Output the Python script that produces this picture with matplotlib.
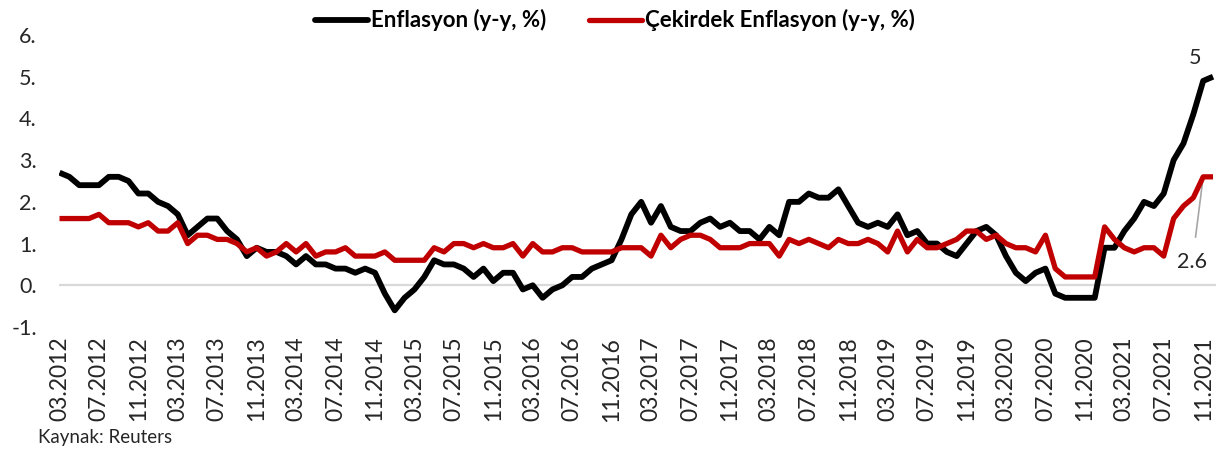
import matplotlib
matplotlib.use("Agg")
import matplotlib.pyplot as plt
import pandas as pd

# ---------------- data ----------------
months = pd.date_range("2012-03-01", "2021-12-01", freq="MS").strftime("%m.%Y").tolist()

enflasyon = [
    2.7, 2.6, 2.4, 2.4, 2.4, 2.6, 2.6, 2.5, 2.2, 2.2,                 # 2012 (Mar-Dec)
    2.0, 1.9, 1.7, 1.2, 1.4, 1.6, 1.6, 1.3, 1.1, 0.7, 0.9, 0.8,       # 2013
    0.8, 0.7, 0.5, 0.7, 0.5, 0.5, 0.4, 0.4, 0.3, 0.4, 0.3, -0.2,      # 2014
    -0.6, -0.3, -0.1, 0.2, 0.6, 0.5, 0.5, 0.4, 0.2, 0.4, 0.1, 0.3,    # 2015
    0.3, -0.1, 0.0, -0.3, -0.1, 0.0, 0.2, 0.2, 0.4, 0.5, 0.6, 1.1,    # 2016
    1.7, 2.0, 1.5, 1.9, 1.4, 1.3, 1.3, 1.5, 1.6, 1.4, 1.5, 1.3,       # 2017
    1.3, 1.1, 1.4, 1.2, 2.0, 2.0, 2.2, 2.1, 2.1, 2.3, 1.9, 1.5,       # 2018
    1.4, 1.5, 1.4, 1.7, 1.2, 1.3, 1.0, 1.0, 0.8, 0.7, 1.0, 1.3,       # 2019
    1.4, 1.2, 0.7, 0.3, 0.1, 0.3, 0.4, -0.2, -0.3, -0.3, -0.3, -0.3,  # 2020
    0.9, 0.9, 1.3, 1.6, 2.0, 1.9, 2.2, 3.0, 3.4, 4.1, 4.9, 5.0,       # 2021
]

cekirdek = [
    1.6, 1.6, 1.6, 1.6, 1.7, 1.5, 1.5, 1.5, 1.4, 1.5,                 # 2012 (Mar-Dec)
    1.3, 1.3, 1.5, 1.0, 1.2, 1.2, 1.1, 1.1, 1.0, 0.8, 0.9, 0.7,       # 2013
    0.8, 1.0, 0.8, 1.0, 0.7, 0.8, 0.8, 0.9, 0.7, 0.7, 0.7, 0.8,       # 2014
    0.6, 0.6, 0.6, 0.6, 0.9, 0.8, 1.0, 1.0, 0.9, 1.0, 0.9, 0.9,       # 2015
    1.0, 0.7, 1.0, 0.8, 0.8, 0.9, 0.9, 0.8, 0.8, 0.8, 0.8, 0.9,       # 2016
    0.9, 0.9, 0.7, 1.2, 0.9, 1.1, 1.2, 1.2, 1.1, 0.9, 0.9, 0.9,       # 2017
    1.0, 1.0, 1.0, 0.7, 1.1, 1.0, 1.1, 1.0, 0.9, 1.1, 1.0, 1.0,       # 2018
    1.1, 1.0, 0.8, 1.3, 0.8, 1.1, 0.9, 0.9, 1.0, 1.1, 1.3, 1.3,       # 2019
    1.1, 1.2, 1.0, 0.9, 0.9, 0.8, 1.2, 0.4, 0.2, 0.2, 0.2, 0.2,       # 2020
    1.4, 1.1, 0.9, 0.8, 0.9, 0.9, 0.7, 1.6, 1.9, 2.1, 2.6, 2.6,       # 2021
]

xtick_labels = [
    "03.2012", "07.2012", "11.2012", "03.2013", "07.2013", "11.2013",
    "03.2014", "07.2014", "11.2014", "03.2015", "07.2015", "11.2015",
    "03.2016", "07.2016", "11.2016", "03.2017", "07.2017", "11.2017",
    "03.2018", "07.2018", "11.2018", "03.2019", "07.2019", "11.2019",
    "03.2020", "07.2020", "11.2020", "03.2021", "07.2021", "11.2021",
]
ytick_values = [-1, 0, 1, 2, 3, 4, 5, 6]
ytick_labels = ["-1.", "0.", "1.", "2.", "3.", "4.", "5.", "6."]

label_enf = "Enflasyon (y-y, %)"
label_cek = "Çekirdek Enflasyon (y-y, %)"
source = "Kaynak: Reuters"

# ---------------- plot ----------------
plt.rcParams['font.family'] = ['Lato', 'DejaVu Sans']

W, H = 1225, 450
fig = plt.figure(figsize=(W / 100, H / 100), dpi=100)
left, right, top, bottom = 59, 1216, 35, 327
ax = fig.add_axes([left / W, 1 - bottom / H, (right - left) / W, (bottom - top) / H])

x = list(range(len(months)))
l1, = ax.plot(x, enflasyon, color='black', lw=4.2, solid_joinstyle='round',
              solid_capstyle='butt', label=label_enf, zorder=3)
l2, = ax.plot(x, cekirdek, color='#c00000', lw=3.8, solid_joinstyle='round',
              solid_capstyle='butt', label=label_cek, zorder=4)
ax.axhline(0, color='#d9d9d9', lw=1.6, zorder=1)

ax.set_xlim(-0.05, len(months) - 1 + 0.3)
ax.set_ylim(-1, 6)
for s in ax.spines.values():
    s.set_visible(False)

ax.set_yticks(ytick_values, ytick_labels, fontsize=15.5, color='#262626')
ax.tick_params(axis='y', length=0, pad=16)
xt = [months.index(l) for l in xtick_labels]
ax.set_xticks(xt, xtick_labels, rotation=90, fontsize=16.5, color='#262626')
ax.tick_params(axis='x', length=0, pad=7)

# data labels
last = len(months) - 1
ax.text(last - 1.8, enflasyon[last] + 0.45, "5", fontsize=15.5, ha='center', va='center', color='#262626')
ax.annotate("2.6", xy=(last - 1, cekirdek[last - 1]), xytext=(last - 2.1, 0.55),
            fontsize=15.5, ha='center', va='center', color='#262626',
            arrowprops=dict(arrowstyle='-', color='#a6a6a6', lw=1.2, shrinkA=9, shrinkB=0))

# legend
leg = fig.legend(handles=[l1, l2], loc='center', bbox_to_anchor=(0.502, 0.955), ncol=2,
                 frameon=False, prop={'weight': 'bold', 'size': 16},
                 handlelength=2.4, handletextpad=0.15, columnspacing=1.9)
for h in leg.legend_handles:
    h.set_solid_capstyle('round')

fig.text(38 / W, 1 - 437 / H, source, fontsize=13.5, va='center', ha='left', color='#262626')

fig.savefig("out.png", dpi=100)
